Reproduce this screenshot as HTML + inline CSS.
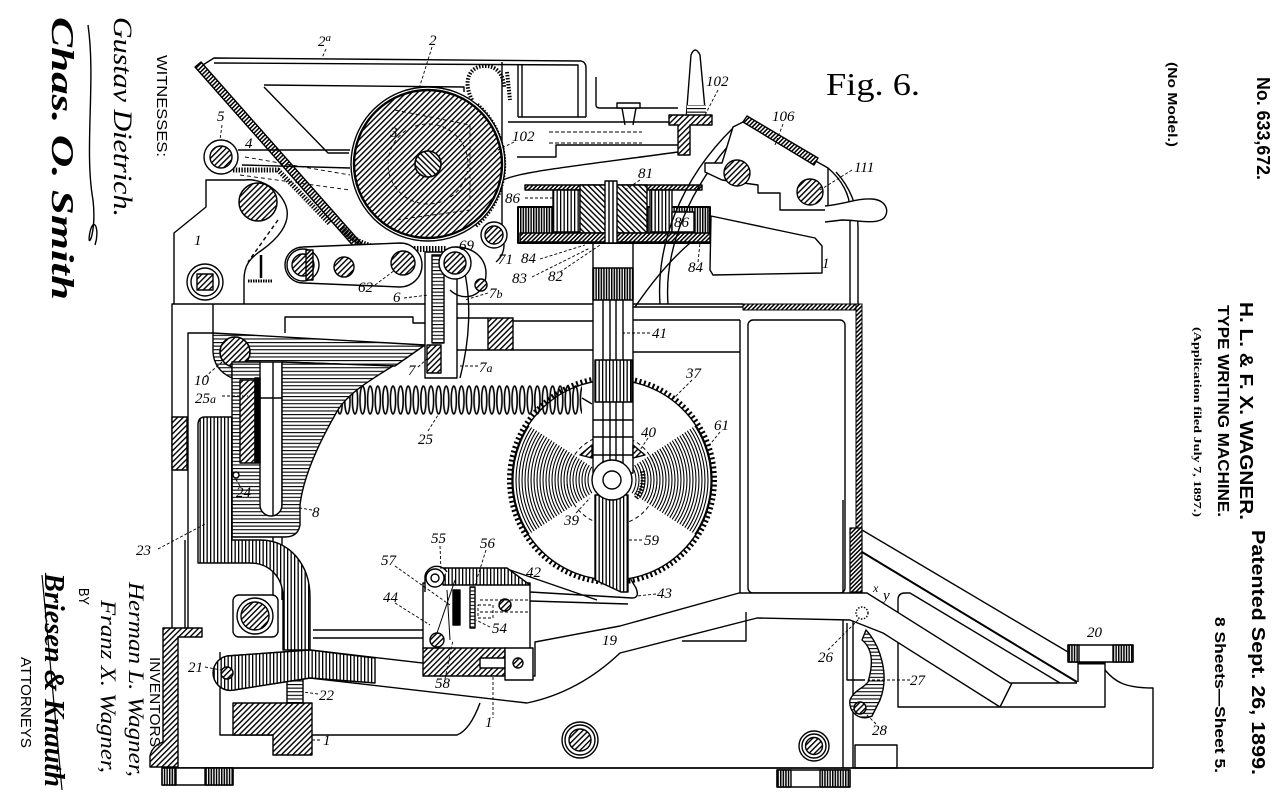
<!DOCTYPE html>
<html><head><meta charset="utf-8"><style>
html,body{margin:0;padding:0;background:#fff;}
svg{display:block;}
.l{font-family:"Liberation Serif",serif;font-style:italic;font-size:15px;fill:#000;stroke:none;}
.s{font-family:"Liberation Sans",sans-serif;fill:#000;stroke:none;}
.sig{font-family:"Liberation Serif",serif;font-style:italic;fill:#000;stroke:none;}
</style></head><body>
<svg width="1280" height="801" viewBox="0 0 1280 801" xmlns="http://www.w3.org/2000/svg">
<defs>
<pattern id="hd" patternUnits="userSpaceOnUse" width="4" height="4" patternTransform="rotate(45)"><rect width="4" height="4" fill="#fff"/><rect width="1.4" height="4" fill="#000"/></pattern>
<pattern id="hd2" patternUnits="userSpaceOnUse" width="4" height="4" patternTransform="rotate(-45)"><rect width="4" height="4" fill="#fff"/><rect width="1.4" height="4" fill="#000"/></pattern>
<pattern id="hdd" patternUnits="userSpaceOnUse" width="3" height="3" patternTransform="rotate(45)"><rect width="3" height="3" fill="#fff"/><rect width="1.5" height="3" fill="#000"/></pattern>
<pattern id="hv" patternUnits="userSpaceOnUse" width="3.5" height="4"><rect width="3.5" height="4" fill="#fff"/><rect width="1.3" height="4" fill="#000"/></pattern>
<pattern id="hvd" patternUnits="userSpaceOnUse" width="2.6" height="4"><rect width="2.6" height="4" fill="#fff"/><rect width="1.5" height="4" fill="#000"/></pattern>
<pattern id="hh" patternUnits="userSpaceOnUse" width="4" height="3.6"><rect width="4" height="3.6" fill="#fff"/><rect width="4" height="1.1" fill="#000"/></pattern>
<pattern id="sp" patternUnits="userSpaceOnUse" x="298" y="384" width="7.6" height="32"><ellipse cx="3.8" cy="16" rx="2.6" ry="14" fill="none" stroke="#000" stroke-width="1.6"/></pattern>
<clipPath id="sec"><path d="M612,480 L482,395 L482,565 Z M612,480 L742,395 L742,565 Z"/></clipPath>
</defs>
<rect width="1280" height="801" fill="#fff"/>

<g fill="none" stroke="#000" stroke-width="1.4" stroke-linejoin="round">

<!-- ===== main frame ===== -->
<path d="M172,628 L172,304 L743,304"/>
<path d="M188,628 L188,333 L213,333 M213,304 L213,333"/>
<path d="M285,333 L285,317 L413,317 L413,323 L428,323"/>
<path d="M453,318 L488,318 M453,350 L488,350 M513,321 L593,321 M513,350 L593,350"/>
<rect x="488" y="318" width="25" height="32" fill="url(#hd)"/>
<path d="M633,307 L743,307 M633,320 L740,320 M633,352 L740,352 M740,320 L740,593"/>
<rect x="748" y="320" width="97" height="273" rx="5"/>
<rect x="743" y="304" width="119" height="6" fill="url(#hdd)" stroke-width="1"/>
<rect x="856" y="304" width="6" height="226" fill="url(#hdd)" stroke-width="1"/>
<rect x="850" y="528" width="12" height="64" fill="url(#hdd)" stroke-width="1.2"/>
<rect x="172" y="417" width="15" height="53" fill="url(#hd)"/>

<!-- rod lines -->
<path d="M273,362 L273,600 M282,362 L282,600"/>
<path d="M185,540 L185,628"/>

<!-- lower frame left L -->
<path d="M163,628 L202,628 L202,637 L178,637 L178,767 L150,767 L150,756 Q152,746 163,742 Z" fill="url(#hd)"/>
<path d="M178,768 L1153,768" stroke-width="1.8"/>
<rect x="162" y="768" width="71" height="17" fill="#fff"/>
<rect x="162" y="768" width="14" height="17" fill="url(#hvd)"/>
<rect x="205" y="768" width="28" height="17" fill="url(#hvd)"/>
<rect x="777" y="770" width="73" height="17" fill="#fff"/>
<rect x="777" y="770" width="14" height="17" fill="url(#hvd)"/>
<rect x="820" y="770" width="30" height="17" fill="url(#hvd)"/>

<path d="M220,652 L220,735 L457,735 Q470,730 480,703"/>
<path d="M313,630 L423,630 M313,638 L423,638"/>
<path d="M233,703 L312,703 L312,755 L273,755 L273,735 L233,735 Z" fill="url(#hd)"/>
<rect x="287" y="677" width="16" height="26" fill="url(#hh)"/>
<rect x="233" y="595" width="45" height="42" rx="6" fill="#fff"/>
<circle cx="255" cy="616" r="18" fill="#fff"/>
<circle cx="255" cy="616" r="14" fill="url(#hd)"/>
<circle cx="580" cy="740" r="18" fill="#fff"/>
<circle cx="580" cy="740" r="15"/>
<circle cx="580" cy="740" r="11" fill="url(#hd)"/>

<!-- right lower frame -->
<path d="M843,500 L843,768 M853,620 L853,768"/>
<circle cx="814" cy="746" r="15" fill="#fff"/>
<circle cx="814" cy="746" r="12"/>
<circle cx="814" cy="746" r="8.5" fill="url(#hd)"/>
<rect x="855" y="745" width="42" height="23"/>

<!-- right slope structure -->
<path d="M862,530 L1068,652"/>
<path d="M862,552 L1077,682" stroke-width="2"/>
<path d="M898,600 Q898,593 905,593 L910,593 L1060,683 M1012,683 L1077,683"/>
<path d="M898,600 L898,707 L1105,707 L1105,662"/>
<path d="M1078,662 L1078,682"/>
<path d="M1105,670 C1115,682 1125,688 1153,688 L1153,768"/>
<rect x="1068" y="645" width="65" height="17" fill="#fff"/>
<rect x="1068" y="645" width="11" height="17" fill="url(#hvd)"/>
<rect x="1113" y="645" width="20" height="17" fill="url(#hvd)"/>
<path d="M1078,663 L1105,663" stroke-width="3"/>

<!-- bar 19 -->
<path d="M227,656 L310,650 L535,676 L535,642 L620,626 L739,593 L867,593 L1010,683 L1012,683 L1000,707 L883,633 L850,620 L757,618 L620,653 C600,672 570,694 527,703 L310,678 L234,690 A17,17 0 0 1 227,656 Z" fill="#fff"/>
<path d="M227,656 L310,650 L375,658 L375,683 L310,678 L234,690 A17,17 0 0 1 227,656 Z" fill="url(#hv)"/>
<circle cx="227" cy="673" r="6" fill="url(#hd)"/>
<path d="M682,641 L746,641 L746,612"/>
<path d="M493,637 L493,718" stroke-dasharray="3,2" stroke-width="0.9"/>

<!-- part 27 / 26 / 28 -->
<path d="M847,623 L847,680 L865,680"/>
<circle cx="862" cy="613" r="6" stroke-dasharray="1.5,1.5"/>
<path d="M866,630 C880,645 890,675 880,700 L872,716 C860,722 848,712 850,700 C854,690 864,688 868,682 C874,662 872,648 862,640 Z" fill="url(#hh)"/>
<circle cx="860" cy="708" r="6" fill="url(#hd)"/>

<!-- ===== saw wheel ===== -->
<circle cx="612" cy="480" r="102.5" stroke-width="5" stroke-dasharray="2,2.6"/>
<circle cx="612" cy="480" r="100" fill="#fff"/>
<g clip-path="url(#sec)" stroke-width="1.1">
<circle cx="612" cy="480" r="24"/><circle cx="612" cy="480" r="27"/><circle cx="612" cy="480" r="30"/><circle cx="612" cy="480" r="33"/><circle cx="612" cy="480" r="36"/><circle cx="612" cy="480" r="39"/><circle cx="612" cy="480" r="42"/><circle cx="612" cy="480" r="45"/><circle cx="612" cy="480" r="48"/><circle cx="612" cy="480" r="51"/><circle cx="612" cy="480" r="54"/><circle cx="612" cy="480" r="57"/><circle cx="612" cy="480" r="60"/><circle cx="612" cy="480" r="63"/><circle cx="612" cy="480" r="66"/><circle cx="612" cy="480" r="69"/><circle cx="612" cy="480" r="72"/><circle cx="612" cy="480" r="75"/><circle cx="612" cy="480" r="78"/><circle cx="612" cy="480" r="81"/><circle cx="612" cy="480" r="84"/><circle cx="612" cy="480" r="87"/><circle cx="612" cy="480" r="90"/><circle cx="612" cy="480" r="93"/><circle cx="612" cy="480" r="96"/><circle cx="612" cy="480" r="99"/>
</g>
<circle cx="612" cy="480" r="45" stroke-dasharray="4,3" stroke-width="1"/>
<path d="M636,498 A30,30 0 0 0 642,470" stroke-width="5" stroke-dasharray="1.5,1.5"/>

<!-- wires 42/43 -->
<path d="M510,570 L597,600 M530,592 L632,598 Q640,598 636,588 L630,578 M530,601 L628,604"/>

<!-- block 54 -->
<rect x="423" y="583" width="107" height="67" fill="#fff"/>
<path d="M443,568 L507,568 L530,585 L443,585 Z" fill="url(#hv)"/>
<path d="M425,592 L425,576 A12,12 0 0 1 447,572" fill="#fff"/>
<circle cx="435" cy="578" r="9" fill="#fff"/>
<circle cx="435" cy="578" r="4"/>
<rect x="423" y="648" width="82" height="28" fill="url(#hd)"/>
<rect x="480" y="658" width="25" height="10" fill="#fff"/>
<rect x="505" y="648" width="28" height="32" fill="#fff"/>
<circle cx="518" cy="663" r="5" fill="url(#hd)"/>
<rect x="453" y="590" width="7" height="35" fill="#000"/>
<rect x="470" y="587" width="5" height="41" fill="url(#hh)"/>
<circle cx="437" cy="640" r="7" fill="url(#hd)"/>
<circle cx="505" cy="605" r="6" fill="url(#hd)"/>
<path d="M480,600 L530,600 M480,612 L530,612" stroke-dasharray="3,2" stroke-width="0.9"/>
<rect x="478" y="605" width="15" height="13" stroke-dasharray="3,2" stroke-width="0.9"/>
<path d="M437,633 L455,580 M447,590 L450,640" stroke-width="1"/>

<!-- column 41 -->
<rect x="593" y="243" width="40" height="230" fill="#fff"/>
<path d="M603,300 L603,470 M610,300 L610,470 M616,300 L616,470 M623,300 L623,470"/>
<rect x="595" y="360" width="37" height="42" fill="url(#hv)"/>
<rect x="593" y="268" width="40" height="32" fill="url(#hvd)"/>
<path d="M593,420 L633,420 M593,437 L633,437 M593,455 L633,455"/>
<path d="M580,455 L592,445 L592,458 Z M645,455 L633,445 L633,458 Z" fill="url(#hd)"/>
<path d="M595,495 L628,495 L628,592 L621,592 L595,580 Z" fill="url(#hv)"/>
<circle cx="612" cy="480" r="20" fill="#fff"/>
<circle cx="612" cy="480" r="9"/>

<!-- spring 25 -->
<rect x="298" y="384" width="284" height="32" fill="url(#sp)" stroke="none"/>
<path d="M242,398 L298,398 M582,398 L592,404"/>

<!-- lever 10 -->
<path d="M213,333 L425,345 L395,366 L282,362 L232,362 L232,378 Q214,370 213,352 Z" fill="url(#hh)"/>
<circle cx="235" cy="352" r="15" fill="url(#hd)" stroke-width="1.6"/>

<!-- part 8 -->
<path d="M232,362 L260,362 L260,505 A11,11 0 0 0 282,505 L282,362 L393,366 C370,380 345,395 335,415 C315,450 303,480 300,505 L300,525 Q298,537 285,537 L232,537 Z" fill="url(#hh)"/>
<rect x="240" y="380" width="15" height="83" fill="url(#hd)"/>
<rect x="255" y="378" width="5" height="85" fill="#000"/>
<path d="M218,475 L236,475"/><circle cx="236" cy="475" r="3" fill="#fff"/>

<!-- part 23 + hook -->
<path d="M205,417 L232,417 L232,540 L260,540 C290,540 310,565 310,597 L310,650 L283,650 L283,597 C283,578 270,563 250,563 L198,563 L198,425 Q198,417 205,417 Z" fill="url(#hv)"/>

<!-- part 6/7 -->
<rect x="425" y="252" width="32" height="126" fill="#fff"/>
<rect x="432" y="255" width="12" height="88" fill="url(#hh)"/>
<rect x="427" y="345" width="14" height="28" fill="url(#hd)"/>
<path d="M463,265 C472,300 470,340 460,378"/>

<!-- ===== top assembly ===== -->
<path d="M198,68 L214,58 L581,61 Q586,62 586,68 L586,117"/>
<path d="M214,63 L578,65 L578,117"/>
<path d="M264,85 L464,87 L464,92 M264,87 L328,153 L349,153"/>
<path d="M518,65 L518,117 M522,65 L522,117 M518,117 L586,117"/>
<path d="M508,122 L669,122"/>
<path d="M549,132 L642,132 M549,143 L642,143" stroke-dasharray="4,2" stroke-width="1"/>
<path d="M517,157 L556,157 L556,145 L678,145"/>
<path d="M503,180 C520,172 560,168 678,152"/>
<path d="M596,77 L596,105 Q596,108 600,108 L678,108"/>
<rect x="617" y="103" width="23" height="5" fill="#fff"/>
<path d="M622,108 L625,125 M636,108 L633,125"/>
<path d="M686,120 L691,55 Q695,45 700,55 L706,120 Z" fill="#fff"/>
<rect x="687" y="105" width="19" height="10" fill="url(#hh)" stroke="none"/>
<path d="M669,115 L712,115 L712,125 L690,125 L690,155 L678,155 L678,125 L669,125 Z" fill="url(#hd)"/>

<!-- diagonal plate -->
<path d="M195,67 L201,62 L362,244 L356,249 Z" fill="url(#hdd)"/>
<path d="M238,150 L350,150 M242,165 L350,168"/>
<path d="M245,157 L350,175 M240,175 L350,190" stroke-dasharray="4,3" stroke-width="0.9"/>
<path d="M233,170 L278,170 L330,224" stroke-width="5" stroke-dasharray="1.4,1.4"/>

<!-- platen -->
<path d="M477,105 A80,80 0 0 1 475,226" stroke-width="5" stroke-dasharray="1.5,1.5"/>
<path d="M472,100 C462,80 470,66 485,66 C498,66 504,76 504,88" stroke-width="4" stroke-dasharray="1.5,1.5"/>
<path d="M502,62 L502,240"/>
<path d="M507,72 L510,100" stroke-width="4" stroke-dasharray="1.5,1.5"/>
<circle cx="428" cy="164" r="77" fill="#fff"/>
<circle cx="428" cy="164" r="74" fill="url(#hd)" stroke-width="2.4"/>
<circle cx="428" cy="164" r="40" stroke-dasharray="4,3" stroke-width="0.9"/>
<path d="M395,110 L470,125 L470,210 L395,220" stroke-dasharray="4,3" stroke-width="0.9"/>
<circle cx="428" cy="164" r="13" fill="url(#hd2)" stroke-width="1.6"/>
<path d="M342,228 Q360,249 392,249 L447,249" stroke-width="6" stroke-dasharray="1.5,1.5"/>

<!-- left frame 1 top -->
<path d="M174,304 L174,233 L206,207 L206,180 L244,180 C262,178 280,190 286,206 C292,224 276,240 262,250 C250,258 244,265 244,280 L244,304"/>
<circle cx="221" cy="157" r="17" fill="#fff"/>
<circle cx="221" cy="157" r="11" fill="url(#hd)"/>
<circle cx="258" cy="202" r="19" fill="url(#hd)" stroke-width="1.5"/>
<path d="M278,220 L248,262" stroke-dasharray="4,3"/>
<circle cx="205" cy="282" r="18" fill="#fff"/>
<circle cx="205" cy="282" r="14"/>
<rect x="197" y="274" width="16" height="16" fill="url(#hd)"/>
<path d="M261,255 L261,278" stroke-width="2.5"/>
<path d="M248,281 L272,281" stroke-width="3" stroke-dasharray="1.5,1"/>
<path d="M303,247 L400,243 A22,22 0 0 1 400,287 L303,283 A18,18 0 0 1 303,247 Z" fill="#fff"/>
<circle cx="303" cy="265" r="16" fill="#fff"/>
<circle cx="303" cy="265" r="11" fill="url(#hd)"/>
<rect x="306" y="250" width="7" height="30" fill="url(#hdd)"/>
<circle cx="344" cy="267" r="10" fill="url(#hd)"/>
<circle cx="403" cy="263" r="12" fill="url(#hd)"/>
<path d="M455,247 C475,247 490,260 485,282 C478,300 460,300 450,290 M486,225 C505,228 510,250 496,262"/>
<circle cx="455" cy="263" r="16" fill="#fff"/>
<circle cx="455" cy="263" r="11" fill="url(#hd)"/>
<circle cx="494" cy="235" r="13" fill="#fff"/>
<circle cx="494" cy="235" r="9" fill="url(#hd)"/>
<circle cx="481" cy="285" r="6" fill="url(#hd)"/>

<!-- drum 81/86 -->
<rect x="518" y="207" width="192" height="36" fill="url(#hvd)" stroke-width="2"/>
<rect x="525" y="185" width="177" height="5" fill="url(#hdd)"/>
<rect x="553" y="190" width="27" height="42" fill="url(#hv)"/>
<rect x="650" y="190" width="22" height="42" fill="url(#hv)"/>
<rect x="672" y="212" width="22" height="20" fill="#fff"/>
<rect x="580" y="185" width="67" height="48" fill="url(#hd2)"/>
<rect x="520" y="233" width="190" height="9" fill="url(#hdd)"/>
<rect x="605" y="181" width="12" height="62" fill="#fff"/>
<path d="M609,181 L609,243 M613,181 L613,243"/>

<!-- frame 1 right, carriage return -->
<path d="M711,216 L815,238 L822,246 L822,273 L713,275 L710,270 Z" fill="#fff"/>
<path d="M635,307 C650,285 668,262 690,243"/>
<path d="M660,304 C656,245 680,180 733,128 M668,304 C664,250 688,188 738,135"/>
<path d="M733,127 L745,121 L828,168 L828,210 L780,210 L780,193 L758,193 L758,185 L722,180 L705,172 L705,163 L722,163 Z" fill="#fff"/>
<path d="M743,122 L747,116 L818,158 L814,165 Z" fill="url(#hdd)"/>
<circle cx="737" cy="173" r="13" fill="url(#hd)"/>
<circle cx="810" cy="192" r="13" fill="url(#hd)"/>
<path d="M828,168 C842,180 850,195 850,210 L850,304 M836,172 C850,187 858,207 858,227 L858,304"/>
<path d="M825,206 C845,204 858,198 872,199 C886,200 890,211 884,218 C876,225 858,220 842,220 L825,222" fill="#fff"/>

<!-- leader lines -->
<g stroke-width="0.9" stroke-dasharray="3,2">
<path d="M326,49 L322,58 M432,47 L418,92 M222,125 L220,140 M514,142 L494,152 M718,90 L705,115 M783,124 L775,145 M852,170 L820,190 M640,180 L625,190 M525,198 L553,198 M540,259 L585,245 M532,277 L590,248 M560,272 L600,245 M698,262 L700,243 M375,285 L395,270 M404,298 L428,295 M488,293 L465,300 M650,333 L623,333 M205,377 L222,362 M222,396 L248,396 M418,367 L428,358 M478,366 L460,366 M428,431 L440,412 M692,380 L672,400 M720,432 L708,447 M648,438 L640,450 M576,513 L590,498 M642,540 L628,540 M656,594 L637,596 M240,486 L235,478 M312,510 L300,508 M158,549 L207,523 M440,546 L441,570 M486,550 L475,585 M395,566 L450,605 M395,603 L430,625 M490,627 L476,620 M445,679 L453,640 M205,667 L221,670 M318,694 L303,692 M320,740 L312,740 M828,650 L860,618 M910,680 L868,680 M876,724 L866,714"/>
</g>
</g>

<!-- labels -->
<g class="l">
<text x="318" y="46">2<tspan font-size="11" dy="-5">a</tspan></text>
<text x="429" y="45">2</text>
<text x="217" y="121">5</text>
<text x="245" y="148">4</text>
<text x="390" y="137">3</text>
<text x="512" y="141">102</text>
<text x="706" y="86">102</text>
<text x="772" y="121">106</text>
<text x="854" y="172">111</text>
<text x="638" y="178">81</text>
<text x="505" y="203">86</text>
<text x="674" y="227">86</text>
<text x="459" y="250">69</text>
<text x="498" y="264">71</text>
<text x="521" y="263">84</text>
<text x="512" y="283">83</text>
<text x="548" y="281">82</text>
<text x="688" y="272">84</text>
<text x="358" y="292">62</text>
<text x="393" y="302">6</text>
<text x="489" y="298">7<tspan font-size="12">b</tspan></text>
<text x="194" y="245">1</text>
<text x="822" y="268">1</text>
<text x="652" y="338">41</text>
<text x="194" y="385">10</text>
<text x="195" y="403">25<tspan font-size="12">a</tspan></text>
<text x="408" y="375">7</text>
<text x="479" y="372">7<tspan font-size="12">a</tspan></text>
<text x="418" y="444">25</text>
<text x="686" y="378">37</text>
<text x="714" y="430">61</text>
<text x="641" y="437">40</text>
<text x="564" y="525">39</text>
<text x="644" y="545">59</text>
<text x="236" y="497">24</text>
<text x="312" y="517">8</text>
<text x="136" y="555">23</text>
<text x="431" y="543">55</text>
<text x="480" y="548">56</text>
<text x="381" y="565">57</text>
<text x="526" y="577">42</text>
<text x="383" y="602">44</text>
<text x="492" y="633">54</text>
<text x="435" y="688">58</text>
<text x="657" y="598">43</text>
<text x="602" y="645">19</text>
<text x="188" y="672">21</text>
<text x="319" y="700">22</text>
<text x="323" y="745">1</text>
<text x="485" y="727">1</text>
<text x="873" y="592" font-size="12">x</text>
<text x="883" y="600">y</text>
<text x="818" y="662">26</text>
<text x="910" y="685">27</text>
<text x="872" y="735">28</text>
<text x="1087" y="637">20</text>
</g>

<text x="826" y="95" font-family="Liberation Serif,serif" font-size="32" textLength="94" lengthAdjust="spacingAndGlyphs">Fig. 6.</text>

<!-- right-side heading text -->
<g class="s" font-weight="bold">
<text transform="translate(1257,77) rotate(90)" font-size="18" textLength="103" lengthAdjust="spacingAndGlyphs">No. 633,672.</text>
<text transform="translate(1168,62) rotate(90)" font-size="13" textLength="85" lengthAdjust="spacingAndGlyphs">(No Model.)</text>
<text transform="translate(1240,302) rotate(90)" font-size="18" textLength="218" lengthAdjust="spacingAndGlyphs">H. L. &amp; F. X. WAGNER.</text>
<text transform="translate(1218,305) rotate(90)" font-size="16" textLength="212" lengthAdjust="spacingAndGlyphs">TYPE WRITING MACHINE.</text>
<text transform="translate(1194,327) rotate(90)" font-family="Liberation Serif,serif" font-size="11" textLength="190" lengthAdjust="spacingAndGlyphs">(Application filed July 7, 1897.)</text>
<text transform="translate(1252,530) rotate(90)" font-size="18" textLength="245" lengthAdjust="spacingAndGlyphs">Patented Sept. 26, 1899.</text>
<text transform="translate(1215,617) rotate(90)" font-size="15" textLength="156" lengthAdjust="spacingAndGlyphs">8 Sheets—Sheet 5.</text>
</g>

<!-- left-side text -->
<g class="s">
<text transform="translate(157,55) rotate(90)" font-size="15" textLength="102" lengthAdjust="spacingAndGlyphs">WITNESSES:</text>
<text transform="translate(150,657) rotate(90)" font-size="15" textLength="90" lengthAdjust="spacingAndGlyphs">INVENTORS</text>
<text transform="translate(79,588) rotate(90)" font-size="15" textLength="17" lengthAdjust="spacingAndGlyphs">BY</text>
<text transform="translate(21,657) rotate(90)" font-size="15" textLength="91" lengthAdjust="spacingAndGlyphs">ATTORNEYS</text>
</g>
<g class="sig">
<text transform="translate(114,17) rotate(90)" font-size="26" textLength="200" lengthAdjust="spacingAndGlyphs">Gustav Dietrich.</text>
<text transform="translate(52,17) rotate(90)" font-size="32" font-weight="bold" textLength="283" lengthAdjust="spacingAndGlyphs">Chas. O. Smith</text>
<text transform="translate(129,582) rotate(90)" font-size="22" textLength="195" lengthAdjust="spacingAndGlyphs">Herman L. Wagner,</text>
<text transform="translate(101,600) rotate(90)" font-size="22" textLength="173" lengthAdjust="spacingAndGlyphs">Franz X. Wagner,</text>
<text transform="translate(45,573) rotate(90)" font-size="28" font-weight="bold" textLength="214" lengthAdjust="spacingAndGlyphs">Briesen &amp; Knauth</text>
</g>
<path d="M88,25 C96,80 84,150 93,200 C97,235 86,252 90,232 C94,215 100,230 95,245" fill="none" stroke="#000" stroke-width="1.4"/>
<path d="M42,575 L62,790" fill="none" stroke="#000" stroke-width="1.2"/>
</svg>
</body></html>
